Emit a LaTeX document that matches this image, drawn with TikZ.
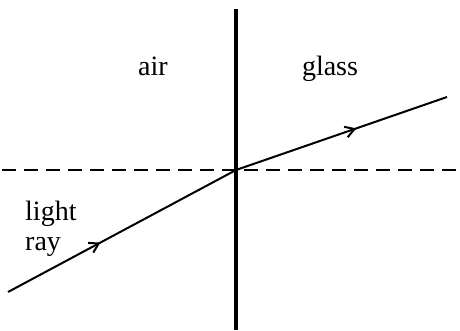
\documentclass[tikz,border=0pt]{standalone}
\usepackage{fontspec}
\setmainfont{Liberation Serif}
\usetikzlibrary{arrows.meta,decorations.markings}
\begin{document}
\begin{tikzpicture}[x=1pt,y=-1pt,
  lbl/.style={inner sep=0pt,font=\fontsize{28}{30}\selectfont},
  boundary/.style={line width=4pt},
  normalline/.style={line width=1.6pt,dash pattern=on 14pt off 8pt},
  raystyle/.style={line width=2pt,line join=round}]
\useasboundingbox (0,0) rectangle (460,330);
\coordinate (top) at (236,9);
\coordinate (bot) at (236,330);
\coordinate (nl) at (2,170);
\coordinate (nr) at (460,170);
\coordinate (s) at (8,292);
\coordinate (o) at (236,170);
\coordinate (e) at (447,97);
\draw[boundary] (top) -- (bot);
\draw[normalline] (nl) -- (nr);
\draw[raystyle,postaction={decorate},decoration={markings,mark=at position 0.405 with {\arrow{Straight Barb[length=9pt,width=11pt,line width=2pt]}}}] (s) -- (o);
\draw[raystyle,postaction={decorate},decoration={markings,mark=at position 0.57 with {\arrow{Straight Barb[length=9pt,width=11pt,line width=2pt]}}}] (o) -- (e);
\node[lbl,anchor=base] (air) at (153,75) {air};
\node[lbl,anchor=base] (glass) at (330,75) {glass};
\node[lbl,anchor=base west] (light) at (25,220) {light};
\node[lbl,anchor=base west] (ray) at (25,250) {ray};
\end{tikzpicture}
\end{document}
